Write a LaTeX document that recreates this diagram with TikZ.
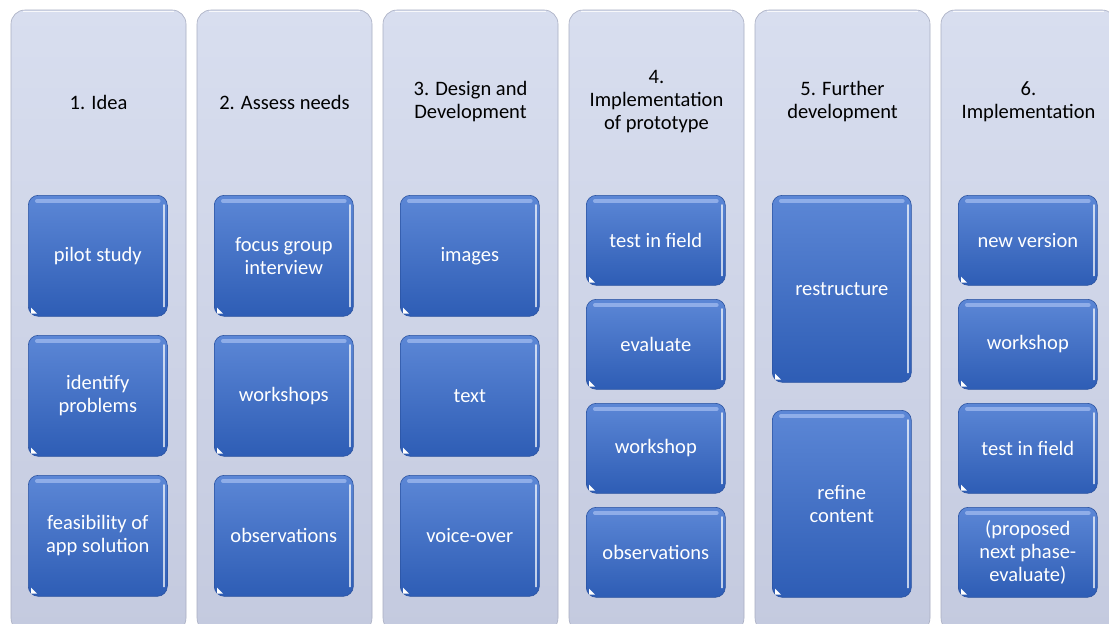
\documentclass[tikz,border=0pt]{standalone}
\usepackage{fontspec}
\setmainfont{Carlito}
\definecolor{colTop}{HTML}{D8DEEF}
\definecolor{colBot}{HTML}{C4CADF}
\definecolor{colEdge}{HTML}{A9AEC2}
\definecolor{bTop}{HTML}{5C87D6}
\definecolor{bBot}{HTML}{2E5DB5}
\definecolor{bEdge}{HTML}{2A52A0}
\definecolor{bShine}{HTML}{9DB8EE}
\tikzset{
  colbox/.style={rounded corners=14pt, top color=colTop, bottom color=colBot, draw=colEdge, line width=0.6pt},
  coltitle/.style={align=center, text=black, font=\fontsize{20.5}{23}\selectfont},
  blk/.style={rounded corners=10pt, top color=bTop, bottom color=bBot, draw=bEdge, line width=0.6pt,
    text=white, align=center, font=\fontsize{20.5}{23}\selectfont, anchor=north west, inner sep=0pt},
  shine/.style={bShine, opacity=0.8, line cap=round},
}
% \bx{name}{x}{y}{w}{h}{text}
\newcommand{\bx}[6]{%
  \node[blk, minimum width=#4pt, minimum height=#5pt] (#1) at (#2,#3) {#6};
  \draw[shine, line width=4pt] ($(#1.north west)+(9,6)$) -- ($(#1.north east)+(-9,6)$);
  \draw[white, opacity=0.7, line cap=round, line width=1.6pt] ($(#1.north east)+(-3.5,10)$) -- ($(#1.south east)+(-3.5,-10)$);
  \fill[white] ($(#1.south west)+(3,-3)$) -- ($(#1.south west)+(9,-3)$) -- ($(#1.south west)+(3,-9)$) -- cycle;
}
% \cl{name}{x}{title}
\newcommand{\cl}[3]{%
  \draw[colbox] (#2,10) rectangle (#2+175,632);
  \draw[white, line width=1.2pt, opacity=0.8] (#2+12,11.5) -- (#2+163,11.5);
  \node[coltitle] (#1) at (#2+87.5,102) {#3};
}
\usetikzlibrary{calc}
\begin{document}
\begin{tikzpicture}[x=1pt, y=-1pt]
\useasboundingbox (0,0) rectangle (1109,624);
\fill[white] (0,0) rectangle (1109,624);
\cl{t1}{11}{1. Idea}
\cl{t2}{197}{2. Assess needs}
\cl{t3}{383}{3. Design and\\Development}
\cl{t4}{569}{4.\\Implementation\\of prototype}
\cl{t5}{755}{5. Further\\development}
\cl{t6}{941}{6.\\Implementation}
% column 1
\bx{a1}{28}{195}{139}{121}{pilot study}
\bx{a2}{28}{335}{139}{121}{identify\\problems}
\bx{a3}{28}{475}{139}{121}{feasibility of\\app solution}
% column 2
\bx{b1}{214}{195}{139}{121}{focus group\\interview}
\bx{b2}{214}{335}{139}{121}{workshops}
\bx{b3}{214}{475}{139}{121}{observations}
% column 3
\bx{c1}{400}{195}{139}{121}{images}
\bx{c2}{400}{335}{139}{121}{text}
\bx{c3}{400}{475}{139}{121}{voice-over}
% column 4
\bx{d1}{586}{195}{139}{90}{test in field}
\bx{d2}{586}{299}{139}{90}{evaluate}
\bx{d3}{586}{403}{139}{90}{workshop}
\bx{d4}{586}{507}{139}{90}{observations}
% column 5
\bx{e1}{772}{195}{139}{187}{restructure}
\bx{e2}{772}{410}{139}{187}{refine\\content}
% column 6
\bx{f1}{958}{195}{139}{90}{new version}
\bx{f2}{958}{299}{139}{90}{workshop}
\bx{f3}{958}{403}{139}{90}{test in field}
\bx{f4}{958}{507}{139}{90}{(proposed\\next phase-\\evaluate)}
\end{tikzpicture}
\end{document}
